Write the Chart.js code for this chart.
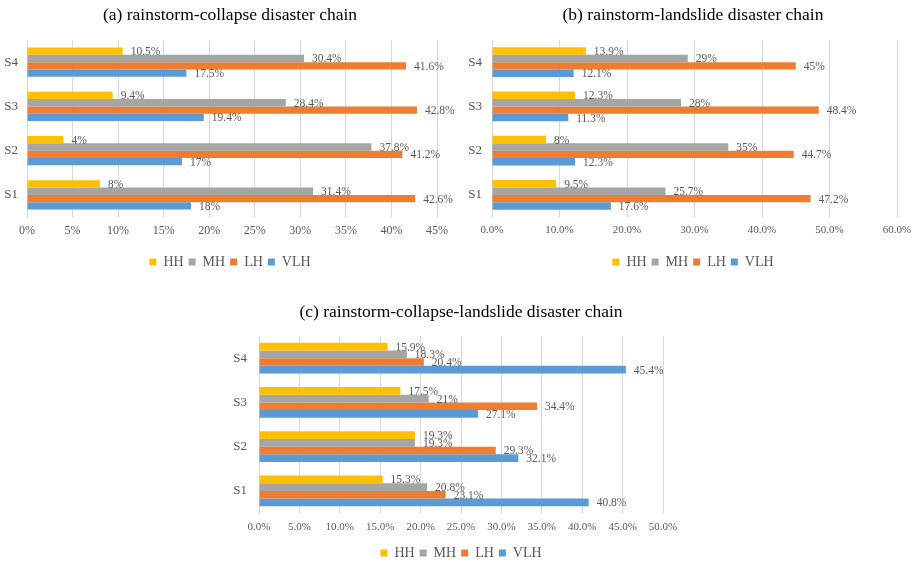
<!DOCTYPE html>
<html>
<head>
<meta charset="utf-8">
<title>Disaster chain hazard levels</title>
<script src="https://cdn.jsdelivr.net/npm/chart.js@4.4.1/dist/chart.umd.min.js"></script>
<style>
  body { margin: 0; background: #fff; overflow: hidden; }
  #wrap { position: relative; width: 916px; height: 562px; }
  canvas { position: absolute; }
</style>
</head>
<body>
<div id="wrap">
  <canvas id="chartA" width="460" height="280" style="left:0;top:0"></canvas>
  <canvas id="chartB" width="456" height="280" style="left:465px;top:0"></canvas>
  <canvas id="chartC" width="482" height="282" style="left:220px;top:290px"></canvas>
</div>
<script>
// categories top -> bottom, as in the picture
const categories = ['S4', 'S3', 'S2', 'S1'];
const seriesNames = ['HH', 'MH', 'LH', 'VLH'];
const seriesColors = ['#FFC000', '#A5A5A5', '#ED7D31', '#5B9BD5'];

// (a) rainstorm-collapse
const collapseHH = [10.5, 9.4, 4, 8];
const collapseMH = [30.4, 28.4, 37.8, 31.4];
const collapseLH = [41.6, 42.8, 41.2, 42.6];
const collapseVLH = [17.5, 19.4, 17, 18];

// (b) rainstorm-landslide
const landslideHH = [13.9, 12.3, 8, 9.5];
const landslideMH = [29, 28, 35, 25.7];
const landslideLH = [45, 48.4, 44.7, 47.2];
const landslideVLH = [12.1, 11.3, 12.3, 17.6];

// (c) rainstorm-collapse-landslide
const chainHH = [15.9, 17.5, 19.3, 15.3];
const chainMH = [18.3, 21, 19.3, 20.8];
const chainLH = [20.4, 34.4, 29.3, 23.1];
const chainVLH = [45.4, 27.1, 32.1, 40.8];

// tick labels
const ticksA = ['0%', '5%', '10%', '15%', '20%', '25%', '30%', '35%', '40%', '45%'];
const ticksB = ['0.0%', '10.0%', '20.0%', '30.0%', '40.0%', '50.0%', '60.0%'];
const ticksC = ['0.0%', '5.0%', '10.0%', '15.0%', '20.0%', '25.0%', '30.0%', '35.0%', '40.0%', '45.0%', '50.0%'];

const serif = '"Liberation Serif", "Times New Roman", serif';
const textGray = '#595959';

// label at the end of each bar
const barLabels = {
    id: 'barLabels',
    afterDatasetsDraw(chart) {
        const ctx = chart.ctx;
        ctx.save();
        ctx.font = '11.5px ' + serif;
        ctx.fillStyle = textGray;
        ctx.textAlign = 'left';
        ctx.textBaseline = 'middle';
        chart.data.datasets.forEach((ds, i) => {
            const meta = chart.getDatasetMeta(i);
            meta.data.forEach((bar, j) => {
                ctx.fillText(ds.data[j] + '%', bar.x + 8, bar.y + 1);
            });
        });
        ctx.restore();
    }
};

function makeChart(id, title, series, tickLabels, cfg) {
    const ctx = document.getElementById(id).getContext('2d');
    return new Chart(ctx, {
        type: 'bar',
        data: {
            labels: categories,
            datasets: series.map((values, i) => ({
                label: seriesNames[i],
                data: values,
                backgroundColor: seriesColors[i],
                categoryPercentage: cfg.catPct,
                barPercentage: 1.0
            }))
        },
        options: {
            indexAxis: 'y',
            responsive: false,
            animation: false,
            layout: { padding: { left: 0, right: 0, top: 0, bottom: cfg.bottom } },
            scales: {
                x: {
                    min: 0,
                    max: cfg.max,
                    ticks: {
                        stepSize: cfg.step,
                        padding: cfg.tickPad,
                        color: textGray,
                        font: { family: serif, size: cfg.tickSize },
                        callback: (v, idx) => tickLabels[idx]
                    },
                    grid: { color: '#D9D9D9', drawTicks: false },
                    border: { display: false },
                    afterFit: (scale) => { scale.height = cfg.xHeight; }
                },
                y: {
                    ticks: {
                        padding: cfg.yPad,
                        color: textGray,
                        font: { family: serif, size: 13 }
                    },
                    grid: { display: false, drawTicks: false },
                    border: { color: '#D9D9D9' },
                    afterFit: (scale) => { scale.width = cfg.leftW; }
                },
                // empty right axis, only reserves room so title and legend stay centred
                yRight: {
                    type: 'category',
                    position: 'right',
                    ticks: { display: false },
                    grid: { display: false, drawTicks: false },
                    border: { display: false },
                    afterFit: (scale) => { scale.width = cfg.rightW; }
                }
            },
            plugins: {
                title: {
                    display: true,
                    text: title,
                    color: '#000',
                    font: { family: serif, size: 17.5, weight: 'normal' },
                    padding: { top: cfg.titleTop, bottom: cfg.titleBottom }
                },
                legend: {
                    position: 'bottom',
                    labels: {
                        boxWidth: 7,
                        boxHeight: 7,
                        padding: 5,
                        color: textGray,
                        font: { family: serif, size: 14 }
                    }
                },
                tooltip: { enabled: false }
            }
        },
        plugins: [barLabels]
    });
}

makeChart('chartA', '(a) rainstorm-collapse disaster chain',
    [collapseHH, collapseMH, collapseLH, collapseVLH], ticksA,
    { max: 45, step: 5, tickSize: 12, tickPad: 7, leftW: 27, rightW: 23, yPad: 9,
      xHeight: 33, bottom: 1, titleTop: 4.5, titleBottom: 14.5, catPct: 0.66 });

makeChart('chartB', '(b) rainstorm-landslide disaster chain',
    [landslideHH, landslideMH, landslideLH, landslideVLH], ticksB,
    { max: 60, step: 10, tickSize: 11, tickPad: 7, leftW: 27, rightW: 24, yPad: 10,
      xHeight: 33, bottom: 1, titleTop: 4.5, titleBottom: 14.5, catPct: 0.67 });

makeChart('chartC', '(c) rainstorm-collapse-landslide disaster chain',
    [chainHH, chainMH, chainLH, chainVLH], ticksC,
    { max: 50, step: 5, tickSize: 11, tickPad: 8, leftW: 39, rightW: 39, yPad: 12,
      xHeight: 28, bottom: 2, titleTop: 11.5, titleBottom: 13.5, catPct: 0.69 });
</script>
</body>
</html>
